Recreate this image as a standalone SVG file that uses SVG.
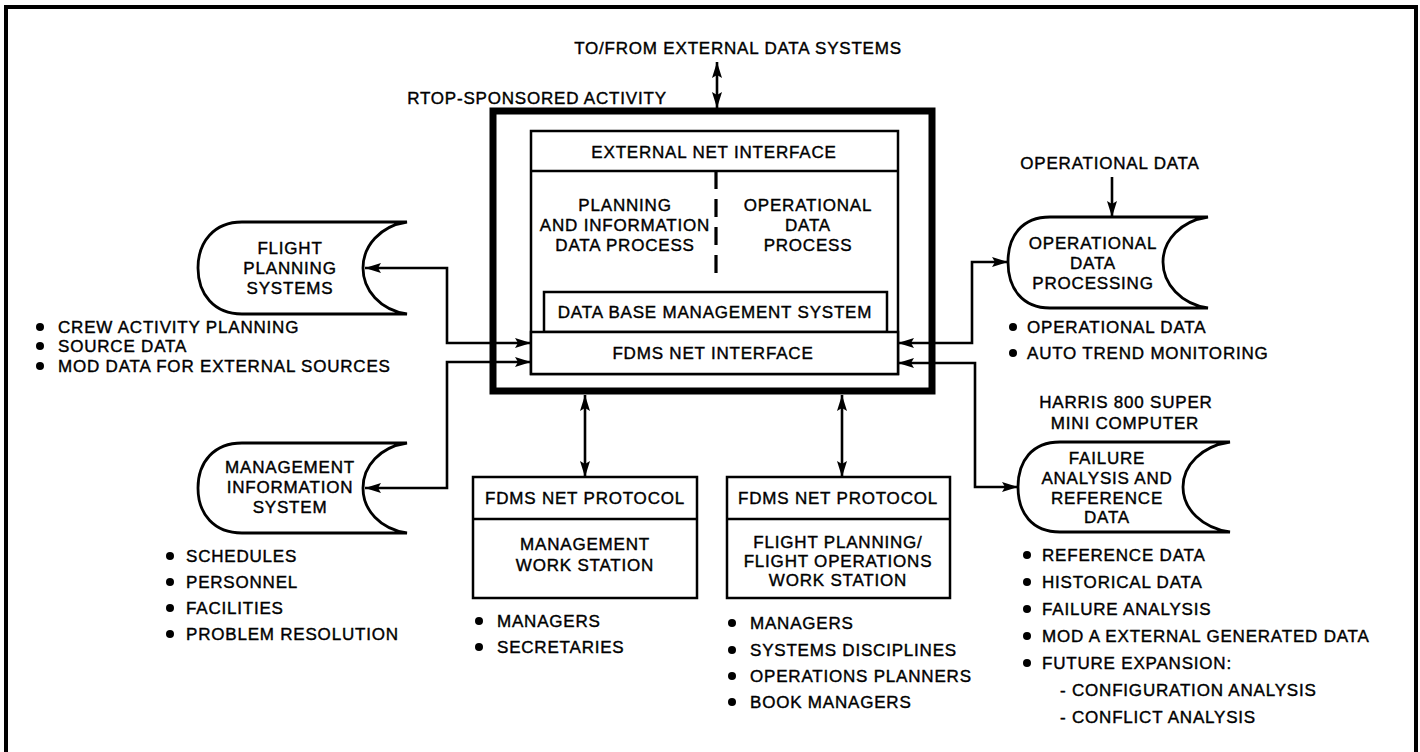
<svg xmlns="http://www.w3.org/2000/svg" width="1420" height="752" viewBox="0 0 1420 752">
<defs>
<style>
text{font-family:"Liberation Sans",Arial,Helvetica,sans-serif;font-size:17px;letter-spacing:0.8px;fill:#000;stroke:#000;stroke-width:0.4px}
.c{text-anchor:middle}
.box{fill:#fff;stroke:#000;stroke-width:2.5}
.shape{fill:#fff;stroke:#000;stroke-width:2.8}
.con{fill:none;stroke:#000;stroke-width:2.6}
.bul{fill:#000}
</style>
<marker id="ah" viewBox="0 0 16 10" refX="16" refY="5" markerWidth="16" markerHeight="10" markerUnits="userSpaceOnUse" orient="auto-start-reverse">
<path d="M0,0 L16,5 L0,10 L3,5 Z" fill="#000"/>
</marker>
</defs>
<rect width="1420" height="752" fill="#fff"/>

<g id="frame">
<path d="M6,760 V7 H1416 V760" fill="none" stroke="#000" stroke-width="4"/>
</g>

<g id="labels-top">
<text class="c" x="738" y="54">TO/FROM EXTERNAL DATA SYSTEMS</text>
<text class="c" x="537" y="104">RTOP-SPONSORED ACTIVITY</text>
</g>

<g id="rtop">
<rect x="493" y="111" width="439" height="280" fill="#fff" stroke="#000" stroke-width="7"/>
</g>

<g id="fdms-core">
<rect class="box" x="531" y="131" width="367" height="243"/>
<line x1="531" y1="171" x2="898" y2="171" stroke="#000" stroke-width="2.5"/>
<text class="c" x="714" y="158">EXTERNAL NET INTERFACE</text>
<line x1="716" y1="171" x2="716" y2="282" stroke="#000" stroke-width="3.2" stroke-dasharray="18 10"/>
<text class="c" x="625" y="211">PLANNING</text>
<text class="c" x="625" y="231">AND INFORMATION</text>
<text class="c" x="625" y="251">DATA PROCESS</text>
<text class="c" x="808" y="211">OPERATIONAL</text>
<text class="c" x="808" y="231">DATA</text>
<text class="c" x="808" y="251">PROCESS</text>
</g>

<g id="dbms">
<rect class="box" x="544" y="292" width="343" height="40"/>
<text class="c" x="715" y="318">DATA BASE MANAGEMENT SYSTEM</text>
</g>

<g id="fdms-net-interface">
<rect class="box" x="531" y="332" width="367" height="42"/>
<text class="c" x="713" y="359">FDMS NET INTERFACE</text>
</g>

<g id="flight-planning-systems">
<path class="shape" d="M242,222 H407 C380,226 363,246 363,268 C363,290 380,310 407,314 H242 C214,314 198,294 198,268 C198,242 214,222 242,222 Z"/>
<text class="c" x="290" y="254">FLIGHT</text>
<text class="c" x="290" y="274">PLANNING</text>
<text class="c" x="290" y="294">SYSTEMS</text>
<circle class="bul" cx="40" cy="327" r="4"/>
<text x="58" y="333">CREW ACTIVITY PLANNING</text>
<circle class="bul" cx="40" cy="346" r="4"/>
<text x="58" y="352">SOURCE DATA</text>
<circle class="bul" cx="40" cy="366" r="4"/>
<text x="58" y="372">MOD DATA FOR EXTERNAL SOURCES</text>
</g>

<g id="management-information-system">
<path class="shape" d="M242,443 H407 C380,447 363,466 363,488 C363,510 380,529 407,533 H242 C214,533 198,514 198,488 C198,462 214,443 242,443 Z"/>
<text class="c" x="290" y="473">MANAGEMENT</text>
<text class="c" x="290" y="493">INFORMATION</text>
<text class="c" x="290" y="513">SYSTEM</text>
<circle class="bul" cx="170" cy="556" r="4"/>
<text x="186" y="562">SCHEDULES</text>
<circle class="bul" cx="170" cy="582" r="4"/>
<text x="186" y="588">PERSONNEL</text>
<circle class="bul" cx="170" cy="608" r="4"/>
<text x="186" y="614">FACILITIES</text>
<circle class="bul" cx="170" cy="634" r="4"/>
<text x="186" y="640">PROBLEM RESOLUTION</text>
</g>

<g id="management-work-station">
<rect class="box" x="473" y="477" width="224" height="121"/>
<line x1="473" y1="519" x2="697" y2="519" stroke="#000" stroke-width="2.5"/>
<text class="c" x="585" y="504">FDMS NET PROTOCOL</text>
<text class="c" x="585" y="550">MANAGEMENT</text>
<text class="c" x="585" y="571">WORK STATION</text>
<circle class="bul" cx="479" cy="621" r="4"/>
<text x="497" y="627">MANAGERS</text>
<circle class="bul" cx="479" cy="647" r="4"/>
<text x="497" y="653">SECRETARIES</text>
</g>

<g id="flight-ops-work-station">
<rect class="box" x="727" y="477" width="223" height="121"/>
<line x1="727" y1="519" x2="950" y2="519" stroke="#000" stroke-width="2.5"/>
<text class="c" x="838" y="504">FDMS NET PROTOCOL</text>
<text class="c" x="838" y="548">FLIGHT PLANNING/</text>
<text class="c" x="838" y="567">FLIGHT OPERATIONS</text>
<text class="c" x="838" y="586">WORK STATION</text>
<circle class="bul" cx="732" cy="623" r="4"/>
<text x="750" y="629">MANAGERS</text>
<circle class="bul" cx="732" cy="650" r="4"/>
<text x="750" y="656">SYSTEMS DISCIPLINES</text>
<circle class="bul" cx="732" cy="676" r="4"/>
<text x="750" y="682">OPERATIONS PLANNERS</text>
<circle class="bul" cx="732" cy="702" r="4"/>
<text x="750" y="708">BOOK MANAGERS</text>
</g>

<g id="operational-data-processing">
<text class="c" x="1110" y="169">OPERATIONAL DATA</text>
<path class="shape" d="M1050,217 H1208 C1181,221 1163,240 1163,262 C1163,284 1181,304 1208,308 H1050 C1022,308 1008,288 1008,262 C1008,236 1022,217 1050,217 Z"/>
<text class="c" x="1093" y="249">OPERATIONAL</text>
<text class="c" x="1093" y="269">DATA</text>
<text class="c" x="1093" y="289">PROCESSING</text>
<circle class="bul" cx="1013" cy="327" r="4"/>
<text x="1027" y="333">OPERATIONAL DATA</text>
<circle class="bul" cx="1013" cy="353" r="4"/>
<text x="1027" y="359">AUTO TREND MONITORING</text>
</g>

<g id="failure-analysis">
<text class="c" x="1126" y="408">HARRIS 800 SUPER</text>
<text class="c" x="1125" y="429">MINI COMPUTER</text>
<path class="shape" d="M1060,442 H1230 C1202,446 1183,465 1183,487 C1183,509 1202,528 1230,532 H1060 C1032,532 1018,513 1018,487 C1018,461 1032,442 1060,442 Z"/>
<text class="c" x="1107" y="464">FAILURE</text>
<text class="c" x="1107" y="484">ANALYSIS AND</text>
<text class="c" x="1107" y="504">REFERENCE</text>
<text class="c" x="1107" y="523">DATA</text>
<circle class="bul" cx="1027" cy="555" r="4"/>
<text x="1042" y="561">REFERENCE DATA</text>
<circle class="bul" cx="1027" cy="582" r="4"/>
<text x="1042" y="588">HISTORICAL DATA</text>
<circle class="bul" cx="1027" cy="609" r="4"/>
<text x="1042" y="615">FAILURE ANALYSIS</text>
<circle class="bul" cx="1027" cy="636" r="4"/>
<text x="1042" y="642">MOD A EXTERNAL GENERATED DATA</text>
<circle class="bul" cx="1027" cy="663" r="4"/>
<text x="1042" y="669">FUTURE EXPANSION:</text>
<text x="1060" y="696">- CONFIGURATION ANALYSIS</text>
<text x="1060" y="723">- CONFLICT ANALYSIS</text>
</g>

<g id="connectors">
<path class="con" d="M717,62 V108" stroke-width="3.4" marker-start="url(#ah)" marker-end="url(#ah)"/>
<path class="con" d="M365,268 H447 V343 H531" marker-start="url(#ah)" marker-end="url(#ah)"/>
<path class="con" d="M365,488 H447 V362 H531" marker-start="url(#ah)" marker-end="url(#ah)"/>
<path class="con" d="M898,343 H972 V262 H1008" marker-start="url(#ah)" marker-end="url(#ah)"/>
<path class="con" d="M898,363 H975 V487 H1018" marker-start="url(#ah)" marker-end="url(#ah)"/>
<path class="con" d="M585,395 V477" marker-start="url(#ah)" marker-end="url(#ah)"/>
<path class="con" d="M842,395 V477" marker-start="url(#ah)" marker-end="url(#ah)"/>
<path class="con" d="M1112,177 V217" marker-end="url(#ah)"/>
</g>
</svg>
